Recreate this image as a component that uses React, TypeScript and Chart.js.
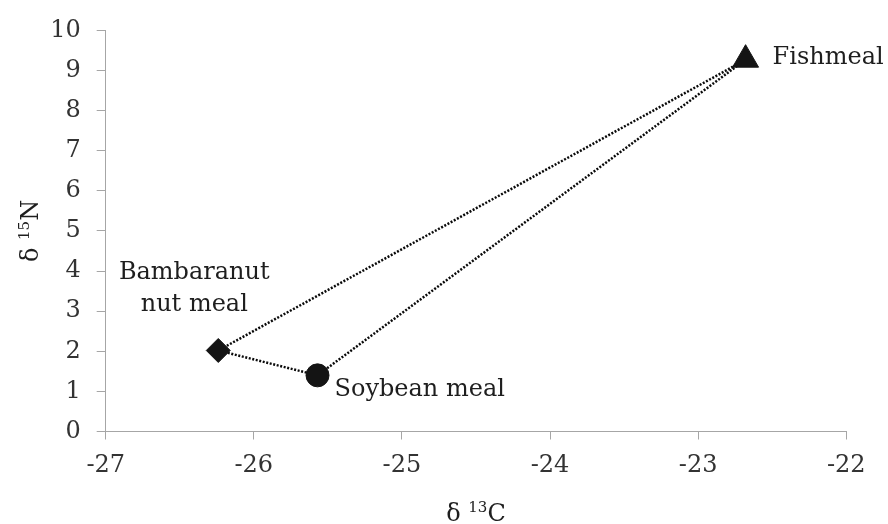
import React, { useEffect, useRef } from "react";
import { Chart, registerables } from "chart.js";

Chart.register(...registerables);

// ---- data ----
const sampleNames = ["Fishmeal", "Bambaranut nut meal", "Soybean meal"];
const labelLines = [["Fishmeal"], ["Bambaranut", "nut meal"], ["Soybean meal"]];
const delta13C = [-22.68, -26.24, -25.57];
const delta15N = [9.27, 2.02, 1.4];
const markerStyles = ["triangle", "rectRot", "circle"];
const xTicks = [-27, -26, -25, -24, -23, -22];
const yTicks = [0, 1, 2, 3, 4, 5, 6, 7, 8, 9, 10];
const xTitle = { base: "δ", sup: "13", tail: "C" };
const yTitle = { base: "δ", sup: "15", tail: "N" };

// ---- styles ----
const FONT = "DejaVu Serif";
const AXIS_GRAY = "#a6a6a6";
const TICK_COLOR = "#333333";
const TEXT_COLOR = "#1e1e1e";
const MARK_COLOR = "#141414";
const markerRadius = [15, 12, 11.5];
const labelOffsets = [
  { dx: 27, dy: [4.5], align: "left" },
  { dx: -24, dy: [-71, -39], align: "center" },
  { dx: 17, dy: [21], align: "left" },
];

const pointLabelPlugin = {
  id: "pointLabels",
  afterDatasetsDraw(chart: any) {
    const { ctx, scales } = chart;
    ctx.save();
    ctx.font = `24px "${FONT}"`;
    ctx.fillStyle = TEXT_COLOR;
    ctx.textBaseline = "alphabetic";
    sampleNames.forEach((_, i) => {
      const px = scales.x.getPixelForValue(delta13C[i]);
      const py = scales.y.getPixelForValue(delta15N[i]);
      const off = labelOffsets[i];
      ctx.textAlign = off.align;
      labelLines[i].forEach((line, j) => {
        ctx.fillText(line, px + off.dx, py + off.dy[j]);
      });
    });
    ctx.restore();
  },
};

function drawSupTitle(ctx: any, t: any, cx: number, baseY: number) {
  const big = `24px "${FONT}"`;
  const small = `15px "${FONT}"`;
  ctx.font = big;
  const wBase = ctx.measureText(t.base + " ").width;
  const wTail = ctx.measureText(t.tail).width;
  ctx.font = small;
  const wSup = ctx.measureText(t.sup).width;
  const total = wBase + wSup + wTail;
  let x = cx - total / 2;
  ctx.textAlign = "left";
  ctx.textBaseline = "alphabetic";
  ctx.font = big;
  ctx.fillText(t.base + " ", x, baseY);
  x += wBase;
  ctx.font = small;
  ctx.fillText(t.sup, x, baseY - 9);
  x += wSup;
  ctx.font = big;
  ctx.fillText(t.tail, x, baseY);
}

const axisTitlePlugin = {
  id: "axisTitles",
  afterDraw(chart: any) {
    const { ctx, chartArea } = chart;
    ctx.save();
    ctx.fillStyle = TEXT_COLOR;
    const cx = (chartArea.left + chartArea.right) / 2;
    drawSupTitle(ctx, xTitle, cx, 521);
    const cy = (chartArea.top + chartArea.bottom) / 2;
    ctx.translate(38, cy);
    ctx.rotate(-Math.PI / 2);
    drawSupTitle(ctx, yTitle, 0, 0);
    ctx.restore();
  },
};

export default function App() {
  const ref = useRef<HTMLCanvasElement | null>(null);

  useEffect(() => {
    if (!ref.current) return;
    const points = delta13C.map((x, i) => ({ x, y: delta15N[i] }));
    const loop = [points[0], points[1], points[2], points[0]];
    const chart = new Chart(ref.current, {
      type: "scatter",
      data: {
        datasets: [
          {
            label: "samples",
            data: points,
            pointStyle: markerStyles as any,
            pointRadius: markerRadius,
            pointHoverRadius: markerRadius,
            backgroundColor: MARK_COLOR,
            borderColor: MARK_COLOR,
            borderWidth: 1,
            showLine: false,
            order: 0,
          },
          {
            label: "mixing polygon",
            data: loop,
            showLine: true,
            borderColor: "#0a0a0a",
            borderWidth: 2.5,
            borderDash: [2, 1.6],
            pointRadius: 0,
            pointHoverRadius: 0,
            tension: 0,
            fill: false,
            order: 1,
          } as any,
        ],
      },
      options: {
        animation: false,
        responsive: false,
        devicePixelRatio: 1,
        layout: { padding: { top: 23.5, right: 41.7, left: 0, bottom: 0 } },
        plugins: { legend: { display: false }, tooltip: { enabled: false } },
        scales: {
          x: {
            type: "linear",
            min: -27,
            max: -22,
            afterBuildTicks: (s: any) => {
              s.ticks = xTicks.map((v) => ({ value: v }));
            },
            afterFit: (s: any) => {
              s.height = 92.5;
            },
            ticks: {
              font: { family: FONT, size: 24 },
              color: TICK_COLOR,
              padding: 12,
              maxRotation: 0,
            },
            grid: {
              drawOnChartArea: false,
              drawTicks: true,
              tickLength: 8,
              color: AXIS_GRAY,
              lineWidth: 1,
            },
            border: { display: true, color: AXIS_GRAY, width: 1 },
          },
          y: {
            type: "linear",
            min: 0,
            max: 10,
            afterBuildTicks: (s: any) => {
              s.ticks = yTicks.map((v) => ({ value: v }));
            },
            afterFit: (s: any) => {
              s.width = 105.7;
            },
            ticks: {
              font: { family: FONT, size: 24 },
              color: TICK_COLOR,
              padding: 16,
            },
            grid: {
              drawOnChartArea: false,
              drawTicks: true,
              tickLength: 9,
              color: AXIS_GRAY,
              lineWidth: 1,
            },
            border: { display: true, color: AXIS_GRAY, width: 1 },
          },
        },
      },
      plugins: [pointLabelPlugin, axisTitlePlugin],
    });
    return () => chart.destroy();
  }, []);

  return (
    <div style={{ position: "fixed", left: 0, top: 0, width: 888, height: 524, background: "#fff" }}>
      <canvas ref={ref} width={888} height={524} style={{ display: "block" }} />
    </div>
  );
}
